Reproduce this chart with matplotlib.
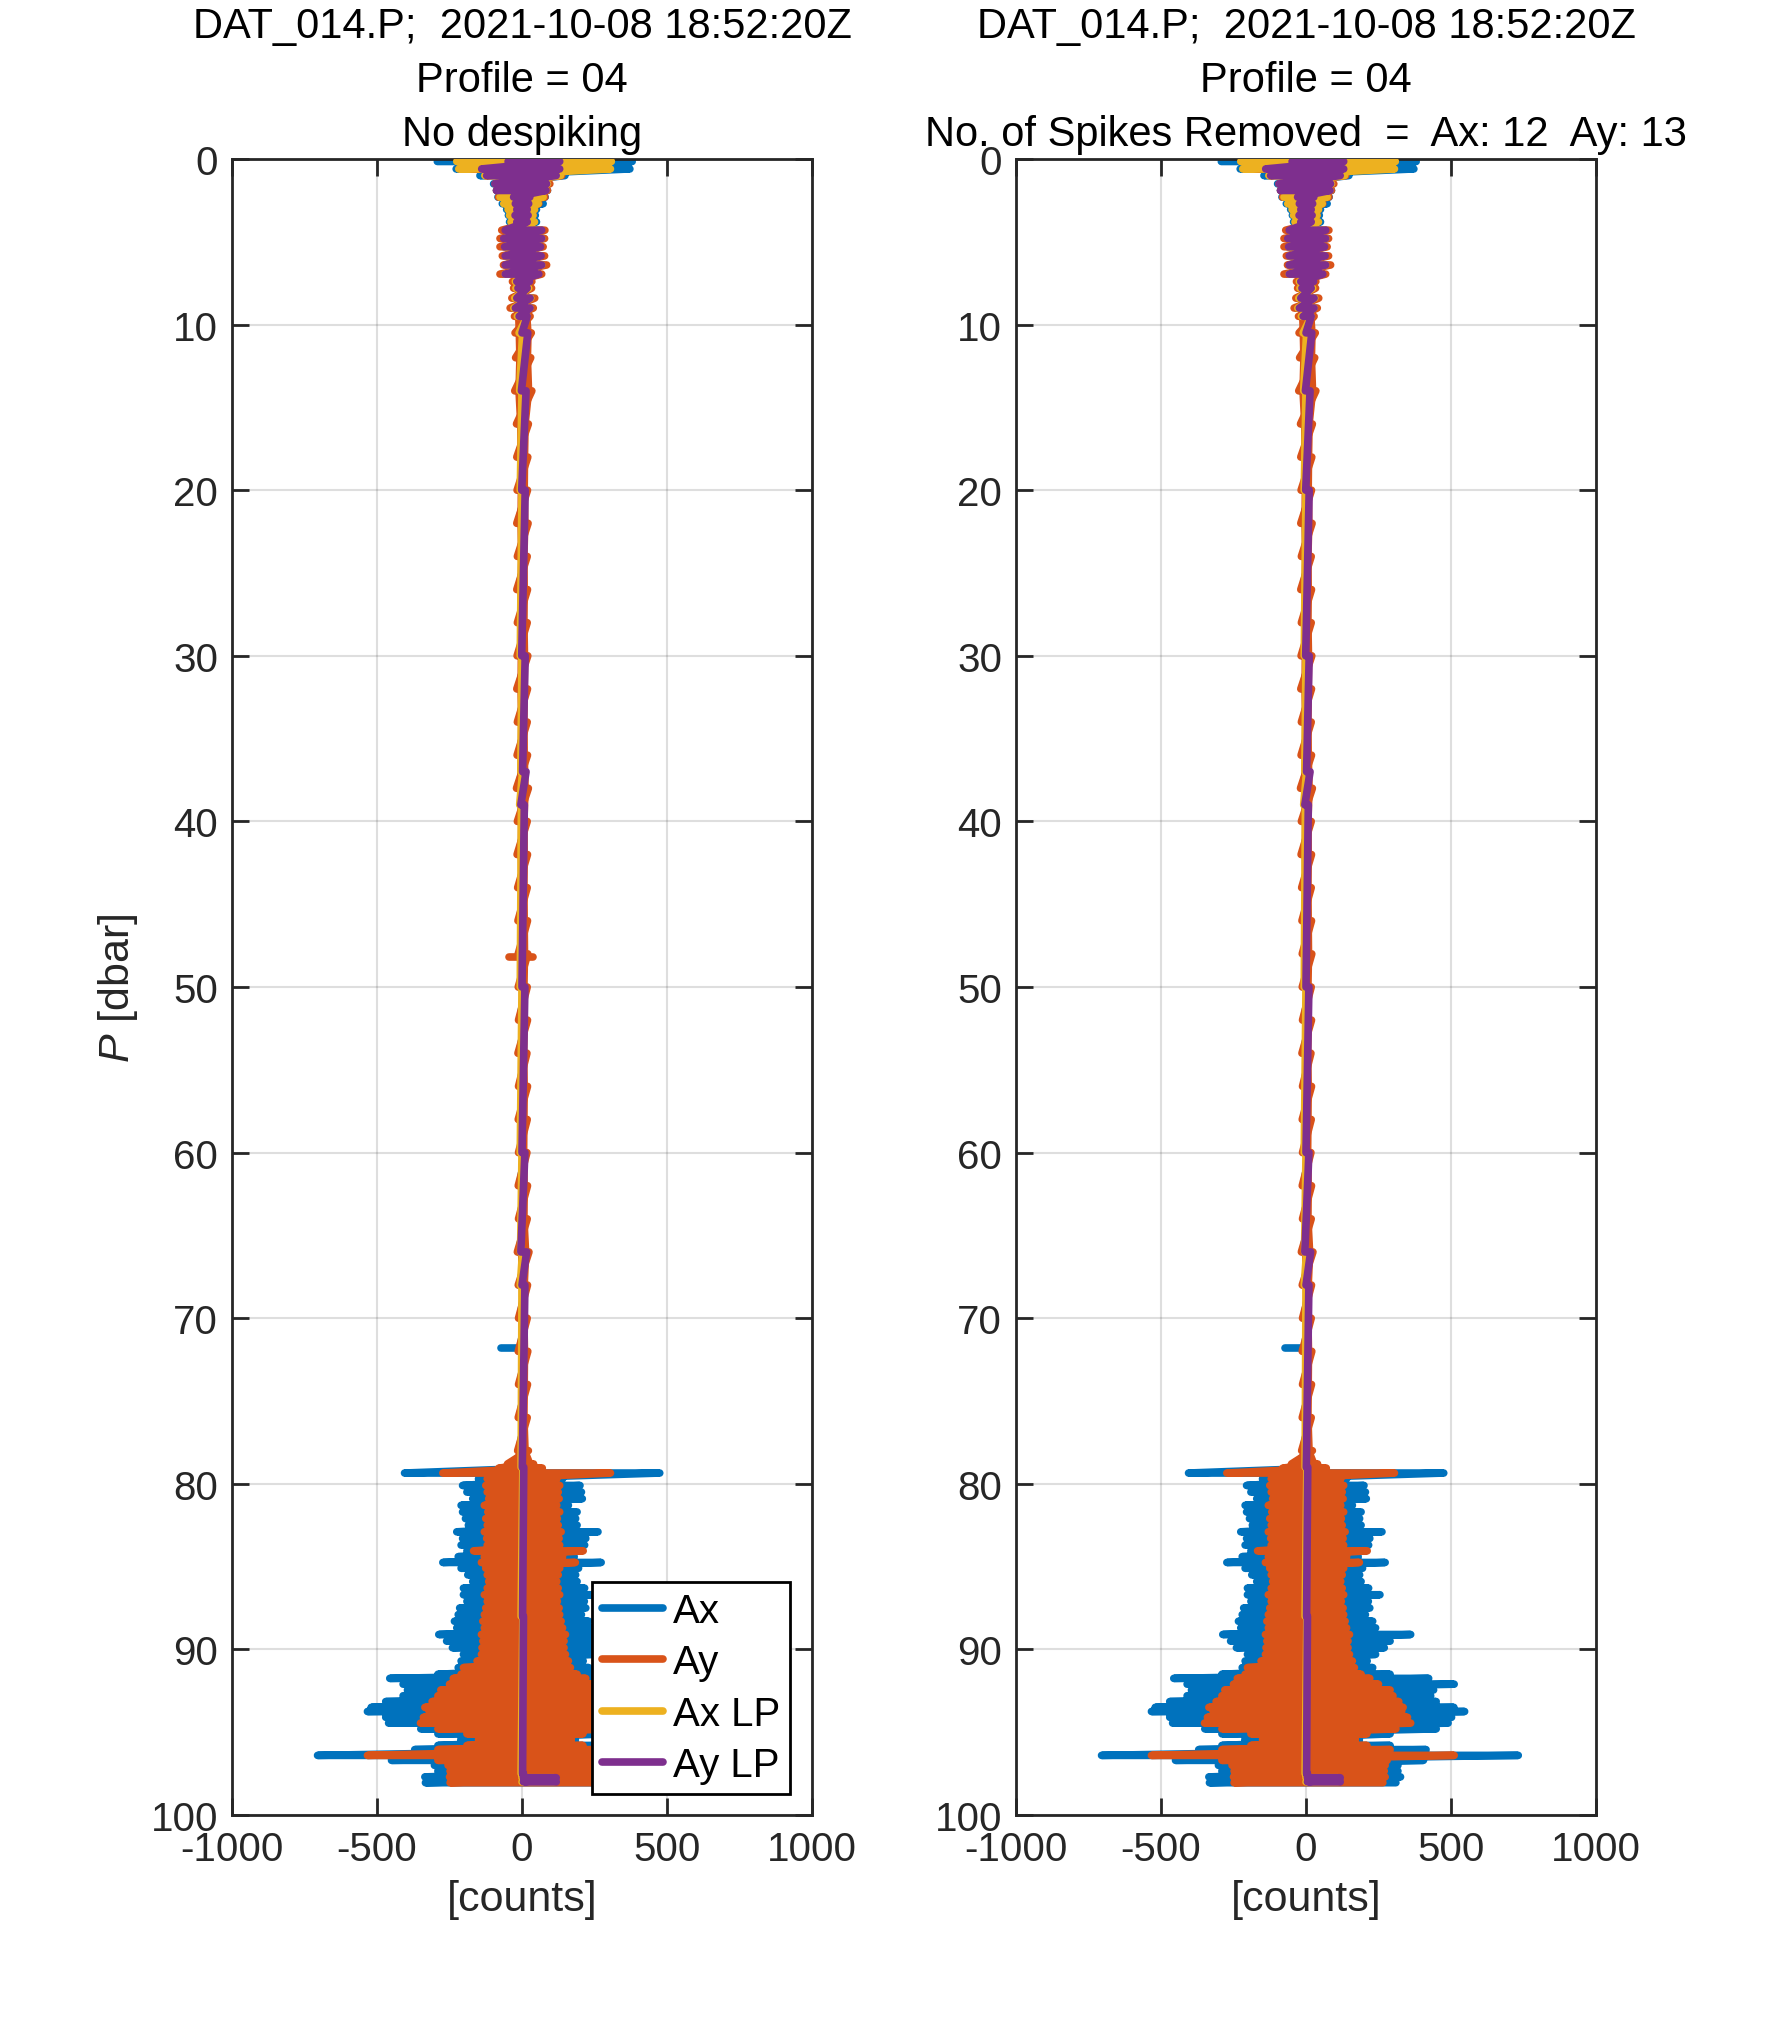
import matplotlib
matplotlib.use("Agg")
import matplotlib.pyplot as plt
import numpy as np

plt.rcParams["font.family"] = ["Liberation Sans", "DejaVu Sans"]
plt.rcParams["mathtext.fontset"] = "custom"
plt.rcParams["mathtext.it"] = "Liberation Sans:italic"
plt.rcParams["mathtext.rm"] = "Liberation Sans"
plt.rcParams["axes.unicode_minus"] = False

# ---- data (pressure levels in dbar, envelopes in counts) ----
# top 10 dbar: min / max of each signal at each pressure level
TOP_P = [0.15, 0.6, 1.0, 1.5, 1.9, 2.3, 2.7, 3.05, 3.4, 3.8, 4.3, 4.8, 5.3, 5.85,
         6.4, 6.95, 7.4, 7.8, 8.4, 9.0, 9.5]
TOP_AX_LO = [-292, -227, -145, -98, -88, -83, -68, -53, -47, -43, -58, -66, -63, -60,
             -58, -63, -28, -26, -30, -33, -20]
TOP_AX_HI = [380, 372, 148, 93, 88, 80, 73, 50, 46, 50, 68, 73, 66, 68,
             73, 58, 28, 28, 36, 33, 23]
TOP_AY_LO = [-188, -178, -127, -93, -88, -81, -58, -43, -38, -36, -70, -76, -76, -68,
             -64, -76, -33, -29, -35, -41, -26]
TOP_AY_HI = [188, 178, 137, 96, 88, 79, 58, 43, 38, 40, 79, 78, 73, 78,
             85, 68, 34, 33, 44, 39, 28]
TOP_AXLP_LO = [-225, -218, -128, -88, -83, -76, -63, -48, -43, -38, -53, -60, -58, -56,
               -53, -58, -23, -21, -25, -28, -16]
TOP_AXLP_HI = [308, 305, 133, 88, 83, 73, 56, 43, 38, 43, 63, 68, 60, 63,
               68, 53, 23, 23, 30, 28, 18]
TOP_AYLP_LO = [-48, -139, -122, -93, -88, -29, -23, -18, -24, -18, -58, -63, -60, -58,
               -58, -58, -18, -14, -18, -23, -10]
TOP_AYLP_HI = [130, 130, 118, 85, 83, 27, 23, 18, 21, 18, 68, 68, 64, 66,
               68, 58, 26, 18, 28, 28, 18]

# 10 - 79 dbar
MID_P = [10.5, 12, 14, 16, 18, 20, 22, 24, 26, 28, 30, 32, 34, 36, 38, 40, 42, 44,
         46, 48, 50, 52, 54, 56, 58, 60, 62, 64, 66, 68, 70, 72, 74, 76, 78]
MID_AX_LO = [-18, -16, -19, -14, -13, -12, -13, -11, -13, -11, -12, -13, -11, -12, -14,
             -11, -12, -10, -10, -9, -9, -8, -10, -8, -9, -8, -9, -8, -12, -9,
             -8, -9, -8, -9, -11]
MID_AX_HI = [26, 24, 28, 16, 14, 13, 15, 12, 13, 12, 14, 13, 12, 13, 16, 12, 13, 12,
             13, 14, 12, 13, 11, 13, 12, 11, 13, 12, 18, 13, 12, 14, 13, 12, 16]
MID_AY_LO = [-24, -22, -25, -19, -18, -17, -18, -16, -18, -16, -17, -18, -16, -17, -19,
             -16, -17, -15, -14, -13, -13, -12, -14, -12, -13, -12, -13, -12, -16, -13,
             -12, -13, -12, -13, -15]
MID_AY_HI = [32, 30, 34, 22, 20, 19, 21, 18, 19, 18, 20, 19, 18, 19, 22, 18, 19, 18,
             19, 20, 18, 19, 17, 19, 18, 17, 19, 18, 24, 19, 18, 20, 19, 18, 22]

# 79 - 98 dbar
BOT_P = [78.8, 79.05, 79.35, 79.7,
         80.1, 80.5, 80.9, 81.3, 81.7, 82.1, 82.5, 82.9, 83.3, 83.7,
         84.05, 84.4, 84.75,
         85.1, 85.5, 85.9, 86.3, 86.7, 87.1, 87.5, 87.9, 88.3, 88.7, 89.1, 89.5, 89.9,
         90.3, 90.7, 91.1, 91.5,
         91.75, 92.1, 92.45, 92.8, 93.15, 93.5, 93.75, 94.1, 94.45, 94.8,
         95.1, 95.45, 95.8, 96.05, 96.4, 96.7, 97.0, 97.35, 97.7, 98.05]
BOT_AX_LO = [-40, -70, -405, -150,
             -205, -190, -170, -210, -205, -195, -185, -225, -205, -210,
             -190, -220, -273,
             -210, -187, -170, -202, -202, -190, -215, -220, -233, -225, -287, -260, -240,
             -202, -210, -220, -290,
             -456, -410, -395, -410, -470, -520, -533, -470, -460, -349,
             -290, -211, -290, -370, -705, -450, -302, -290, -335, -333]
BOT_AX_HI = [30, 60, 475, 140,
             200, 205, 208, 160, 190, 185, 190, 262, 220, 216,
             205, 180, 273,
             195, 185, 190, 216, 255, 215, 220, 205, 230, 240, 361, 290, 270,
             240, 211, 230, 290,
             423, 511, 440, 430, 449, 510, 547, 502, 490, 449,
             290, 184, 290, 414, 732, 405, 317, 317, 326, 310]
BOT_AY_LO = [-50, -80, -273, -120,
             -125, -120, -115, -130, -118, -125, -120, -130, -122, -120,
             -167, -130, -140,
             -125, -120, -115, -120, -130, -120, -125, -130, -135, -130, -140, -135, -138,
             -140, -155, -202, -210,
             -237, -250, -280, -290, -310, -335, -320, -340, -350, -290,
             -190, -150, -190, -290, -533, -290, -255, -248, -250, -248]
BOT_AY_HI = [40, 70, 305, 120,
             130, 125, 128, 120, 130, 122, 125, 135, 128, 130,
             211, 140, 184,
             130, 125, 120, 125, 130, 122, 128, 130, 135, 140, 150, 145, 145,
             150, 160, 167, 190,
             220, 250, 290, 300, 320, 335, 330, 350, 361, 310,
             210, 170, 210, 290, 511, 280, 273, 270, 273, 265]

# low-passed signals below 10 dbar
LP_P = [10.5, 14, 20, 30, 37, 39, 50, 60, 66, 68, 79, 88, 97.5, 97.75, 98.0]
LP_AX_LO = [-10, -8, -6, -6, -4, -8, -6, -6, -5, -6, -3, -3, -3, 0, 0]
LP_AX_HI = [2, 0, 0, 0, 2, -2, 0, 0, 2, 0, 3, 3, 3, 110, 110]
LP_AY_LO = [0, -2, -1, -1, 2, -4, 0, 0, -4, 0, 1, 2, 2, 5, 5]
LP_AY_HI = [20, 14, 11, 11, 14, 8, 10, 10, 16, 10, 6, 5, 5, 118, 118]

# isolated spikes
SPIKE_AX_P, SPIKE_AX_LO, SPIKE_AX_HI = [71.8], [-72], [0]
RAW_SPIKE_AY_P, RAW_SPIKE_AY_LO, RAW_SPIKE_AY_HI = [48.2], [-46], [39]

FILE_LINE = "DAT_014.P;  2021-10-08 18:52:20Z"
PROFILE_LINE = "Profile = 04"
SUBTITLES = ["No despiking", "No. of Spikes Removed  =  Ax: 12  Ay: 13"]
LABELS = ["Ax", "Ay", "Ax LP", "Ay LP"]
COLORS = ["#0072BD", "#D95319", "#EDB120", "#7E2F8E"]

FS = 29
TITLE_FS = 30
LABEL_FS = 31
LW = 5.5
INK = "#262626"


def draw_series(ax, p, lo, hi, color, z, label=None, fill=None):
    x = np.column_stack([lo, hi]).ravel()
    y = np.repeat(np.asarray(p, float), 2)
    if fill is not None:
        fp, flo, fhi = fill
        ax.fill_betweenx(fp, flo, fhi, color=color, lw=0, zorder=z)
    (line,) = ax.plot(x, y, color=color, lw=LW, solid_capstyle="round",
                      solid_joinstyle="round", zorder=z, label=label)
    return line


def draw_spikes(ax, p, lo, hi, color, z):
    for pp, l, h in zip(p, lo, hi):
        ax.plot([l, h], [pp, pp], color=color, lw=LW, solid_capstyle="round", zorder=z)


def style_axes(ax):
    ax.set_xlim(-1000, 1000)
    ax.set_ylim(100, 0)
    ax.set_xticks([-1000, -500, 0, 500, 1000])
    ax.set_yticks(np.arange(0, 101, 10))
    ax.grid(True, color=INK, alpha=0.15, lw=1.5)
    ax.set_axisbelow(True)
    ax.tick_params(direction="in", length=12, width=2, top=True, right=True,
                   labelsize=FS, colors=INK)
    ax.tick_params(axis="x", pad=11)
    ax.tick_params(axis="y", pad=10)
    for s in ax.spines.values():
        s.set_linewidth(2)
        s.set_color(INK)
    ax.set_xlabel("[counts]", fontsize=LABEL_FS, color=INK, labelpad=8)


fig = plt.figure(figsize=(17.71, 20.31), dpi=100)
ax_l = fig.add_axes([232 / 1771, 215 / 2031, 580 / 1771, 1656 / 2031])
ax_r = fig.add_axes([1016 / 1771, 215 / 2031, 580 / 1771, 1656 / 2031])

ax_p = TOP_P + MID_P + BOT_P
ax_lo = TOP_AX_LO + MID_AX_LO + BOT_AX_LO
ax_hi = TOP_AX_HI + MID_AX_HI + BOT_AX_HI
ay_lo = TOP_AY_LO + MID_AY_LO + BOT_AY_LO
ay_hi = TOP_AY_HI + MID_AY_HI + BOT_AY_HI
lp_p = TOP_P + LP_P
axlp_lo, axlp_hi = TOP_AXLP_LO + LP_AX_LO, TOP_AXLP_HI + LP_AX_HI
aylp_lo, aylp_hi = TOP_AYLP_LO + LP_AY_LO, TOP_AYLP_HI + LP_AY_HI

# the 10-79 dbar band is sparse in pressure, so it gets a solid fill under the trace
mid_p = TOP_P[-1:] + MID_P + BOT_P[:1]
ax_fill = (mid_p, TOP_AX_LO[-1:] + MID_AX_LO + BOT_AX_LO[:1],
           TOP_AX_HI[-1:] + MID_AX_HI + BOT_AX_HI[:1])
ay_fill = (mid_p, TOP_AY_LO[-1:] + MID_AY_LO + BOT_AY_LO[:1],
           TOP_AY_HI[-1:] + MID_AY_HI + BOT_AY_HI[:1])

for i, ax in enumerate([ax_l, ax_r]):
    lines = [
        draw_series(ax, ax_p, ax_lo, ax_hi, COLORS[0], 2, LABELS[0], ax_fill),
        draw_series(ax, ax_p, ay_lo, ay_hi, COLORS[1], 3, LABELS[1], ay_fill),
        draw_series(ax, lp_p, axlp_lo, axlp_hi, COLORS[2], 4, LABELS[2]),
        draw_series(ax, lp_p, aylp_lo, aylp_hi, COLORS[3], 5, LABELS[3]),
    ]
    draw_spikes(ax, SPIKE_AX_P, SPIKE_AX_LO, SPIKE_AX_HI, COLORS[0], 2)
    if i == 0:
        draw_spikes(ax, RAW_SPIKE_AY_P, RAW_SPIKE_AY_LO, RAW_SPIKE_AY_HI, COLORS[1], 3)
    style_axes(ax)
    ax.set_title("\n".join([FILE_LINE, PROFILE_LINE, SUBTITLES[i]]),
                 fontsize=TITLE_FS, linespacing=1.45, pad=10, color="black")

ax_l.set_ylabel(r"$P$ [dbar]", fontsize=LABEL_FS, color=INK, labelpad=8)
leg = ax_l.legend(handles=lines, loc="lower right", bbox_to_anchor=(0.962, 0.0127),
                  borderaxespad=0, fontsize=FS, fancybox=False, framealpha=1,
                  edgecolor="black", handlelength=1.5, handletextpad=0.25,
                  borderpad=0.25, labelspacing=0.33)
leg.get_frame().set_linewidth(2)
leg.set_zorder(10)

fig.savefig("out.png", dpi=100)
